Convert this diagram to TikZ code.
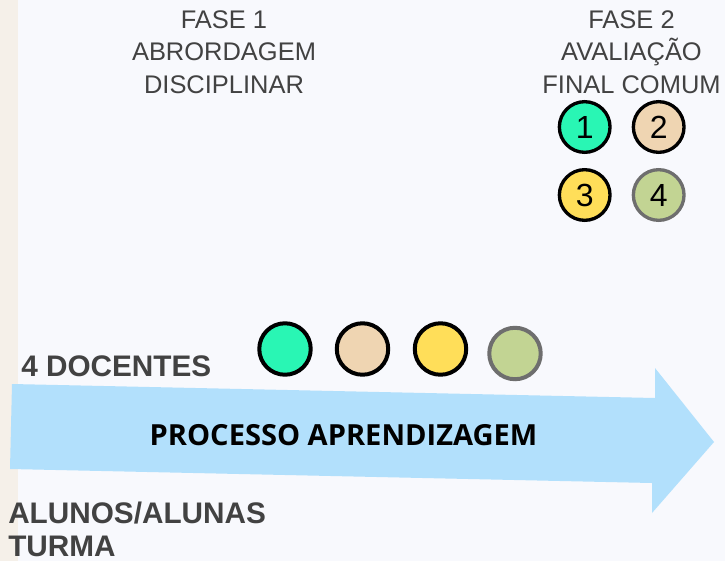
\documentclass[tikz,border=0pt]{standalone}
\usepackage{fontspec}
\setmainfont{Liberation Sans}
\newfontfamily\opensans{Open Sans}

\definecolor{fundo}{HTML}{F8F9FD}
\definecolor{faixa}{HTML}{F5F0E9}
\definecolor{azulseta}{HTML}{B2E0FC}
\definecolor{cinzatexto}{HTML}{424242}
\definecolor{verde}{HTML}{29F6B4}
\definecolor{bege}{HTML}{EFD5B2}
\definecolor{amarelo}{HTML}{FFDE59}
\definecolor{oliva}{HTML}{C2D493}
\definecolor{cinzaborda}{HTML}{6E6E6E}

\begin{document}
\begin{tikzpicture} [x=0.75pt, y=-0.75pt, align=center,
  fase/.style={text=cinzatexto, inner sep=0pt, anchor=north, font=\fontsize{19.1}{24.4}\selectfont},
  rotulo/.style={text=cinzatexto, inner sep=0pt, anchor=base west, align=left, font=\fontsize{22.3}{24.4}\selectfont\bfseries},
  docente/.style={circle, draw, line width=3pt, minimum size=38.6pt, inner sep=0pt},
  aval/.style={circle, draw, line width=2.5pt, minimum size=38pt, inner sep=0pt, font=\fontsize{24}{24}\selectfont}]

\useasboundingbox (0, 0) rectangle (725, 561);

% fundo e faixa lateral
\fill[fundo] (0, 0) rectangle (725, 561);
\fill[faixa] (0, 0) rectangle (18, 561);

% seta do processo
\fill[azulseta] (12, 384) -- (655, 398) -- (655, 368) -- (714, 442) -- (652, 513) -- (652, 483) -- (10, 469) -- cycle;

\path (224, 10) node[fase] (fase1) {FASE 1\\ABRORDAGEM\\DISCIPLINAR}
      (631.5, 10) node[fase] (fase2) {FASE 2\\AVALIAÇÃO\\FINAL COMUM};

\path (584.7, 127) node[aval, fill=verde] (a1) {1}
      (658.7, 127) node[aval, fill=bege] (a2) {2}
      (584.7, 195) node[aval, fill=amarelo] (a3) {3}
      (658.7, 195) node[aval, fill=oliva, draw=cinzaborda] (a4) {4};

\path (285, 349) node[docente, fill=verde] (d1) {}
      (362.5, 349) node[docente, fill=bege] (d2) {}
      (440.5, 349) node[docente, fill=amarelo] (d3) {}
      (515, 353.5) node[docente, fill=oliva, draw=cinzaborda] (d4) {};

\path (21, 376) node[rotulo] (docentes) {4 DOCENTES}
      (8, 502) node[rotulo, anchor=north west] (alunos) {ALUNOS/ALUNAS\\TURMA};

\path (343.5, 445) node[inner sep=0pt, anchor=base, font=\opensans\fontsize{21.8}{21.8}\selectfont\bfseries] (processo) {PROCESSO APRENDIZAGEM};

\end{tikzpicture}
\end{document}
